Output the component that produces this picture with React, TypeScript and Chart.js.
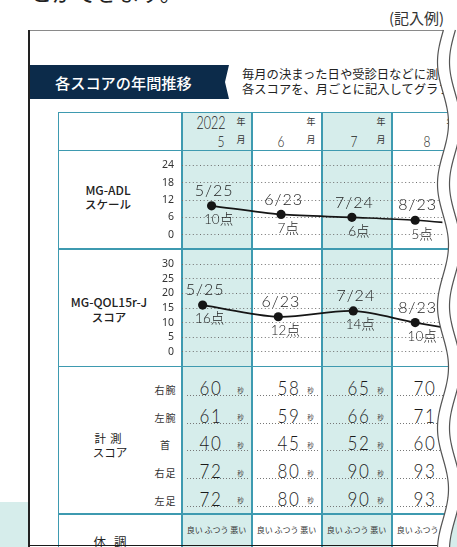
import React, { useEffect, useRef } from 'react';
import { Chart, registerables } from 'chart.js';

Chart.register(...registerables);

// ---------------- data ----------------
const YEAR = '2022';
const MONTHS = ['5', '6', '7', '8'];

const ADL_TICK_STEP = 6;
const ADL_MAX = 24;
const ADL_DATES = ['5/25', '6/23', '7/24', '8/23'];
const ADL_VALUES = [10, 7, 6, 5];
// plotted position of each point: month column index + place inside the column
const ADL_POS = [0.43, 1.44, 2.47, 3.39];

const QOL_TICK_STEP = 5;
const QOL_MAX = 30;
const QOL_DATES = ['5/25', '6/23', '7/24', '8/23'];
const QOL_VALUES = [16, 12, 14, 10];
const QOL_POS = [0.3, 1.4, 2.49, 3.39];

// next month, hidden behind the wavy cut: estimated from the line's direction
const ADL_NEXT_POS = 4.4;
const ADL_NEXT_VALUE = 3;
const QOL_NEXT_POS = 4.4;
const QOL_NEXT_VALUE = 6;

const PARTS = ['右腕', '左腕', '首', '右足', '左足'];
const MEASURE_MAY = [60, 61, 40, 72, 72];
const MEASURE_JUN = [58, 59, 45, 80, 80];
const MEASURE_JUL = [65, 66, 52, 90, 90];
const MEASURE_AUG = [70, 71, 60, 93, 93];
const MEASURES = [MEASURE_MAY, MEASURE_JUN, MEASURE_JUL, MEASURE_AUG];
const CONDITION = ['良い', 'ふつう', '悪い'];

// ---------------- layout / style ----------------
const W = 457;
const H = 547;
const JP = "'Noto Sans CJK JP', 'Noto Sans', sans-serif";
const HAND = "Lato, 'Noto Sans CJK JP', sans-serif";
const HW = 300;
const TEAL = '#d6edeb';
const LINE = '#3e9ab0';
const COL0 = 182;
const COL_W = 70;
const PLOT_RIGHT = 447;
const VALUE_OFF = [29, 36.5, 36.5, 32.5];

type TxtProps = {
  x: number; y: number; size: number; children: React.ReactNode;
  color?: string; weight?: number; family?: string;
  align?: 'left' | 'center' | 'right'; sx?: number; ls?: number;
};

function Txt({ x, y, size, children, color = '#222', weight = 400, family = JP, align = 'center', sx = 1, ls = 0 }: TxtProps) {
  const style: React.CSSProperties = {
    position: 'absolute',
    top: y - size,
    height: size * 2,
    lineHeight: `${size * 2}px`,
    fontSize: size,
    fontFamily: family,
    fontWeight: weight,
    color,
    whiteSpace: 'nowrap',
    letterSpacing: ls,
    transform: sx !== 1 ? `scaleX(${sx})` : undefined,
  };
  if (align === 'center') {
    style.left = x - 200; style.width = 400; style.textAlign = 'center'; style.transformOrigin = 'center center';
  } else if (align === 'left') {
    style.left = x; style.textAlign = 'left'; style.transformOrigin = 'left center';
  } else {
    style.right = W - x; style.textAlign = 'right'; style.transformOrigin = 'right center';
  }
  return <div style={style}>{children}</div>;
}

function Rect({ l, t, w, h, c, z }: { l: number; t: number; w: number; h: number; c: string; z?: number }) {
  return <div style={{ position: 'absolute', left: l, top: t, width: w, height: h, background: c, zIndex: z }} />;
}

type ChartProps = {
  left: number; top: number; width: number; height: number;
  padTop: number; padBottom: number; max: number; step: number;
  pos: number[]; values: number[]; dates: string[]; nextPos: number; nextValue: number;
};

function ScoreChart(p: ChartProps) {
  const ref = useRef<HTMLCanvasElement>(null);
  useEffect(() => {
    const labelPlugin = {
      id: 'pointLabels',
      afterDatasetsDraw(chart: any) {
        const meta = chart.getDatasetMeta(0);
        const ctx = chart.ctx as CanvasRenderingContext2D;
        ctx.save();
        ctx.fillStyle = '#222';
        ctx.textAlign = 'center';
        ctx.textBaseline = 'middle';
        p.dates.forEach((d, i) => {
          const el = meta.data[i];
          ctx.font = `${HW} 16px ${HAND}`;
          ctx.fillText(d.split('').join(String.fromCharCode(8202)), el.x + 2, el.y - 15);
          ctx.font = `${HW} 13.5px ${HAND}`;
          ctx.fillText(`${p.values[i]}点`, el.x + 7, el.y + 14);
        });
        ctx.restore();
      },
    };
    const pts = p.pos.map((x, i) => ({ x, y: p.values[i] }));
    pts.push({ x: p.nextPos, y: p.nextValue });
    const chart = new Chart(ref.current as HTMLCanvasElement, {
      type: 'line',
      data: {
        datasets: [
          {
            data: pts,
            borderColor: '#151515',
            borderWidth: 1.7,
            backgroundColor: '#151515',
            pointBackgroundColor: '#151515',
            pointBorderWidth: 0,
            pointRadius: (c: any) => (c.dataIndex < p.values.length ? 4.6 : 0),
            tension: 0.3,
            fill: false,
          },
        ],
      },
      options: {
        animation: false,
        responsive: false,
        devicePixelRatio: 1,
        layout: { padding: { top: p.padTop, bottom: p.padBottom, left: 0, right: 0 } },
        plugins: { legend: { display: false }, tooltip: { enabled: false } },
        scales: {
          x: { type: 'linear', min: 0, max: (PLOT_RIGHT - COL0) / COL_W, display: false },
          y: {
            min: 0,
            max: p.max,
            afterFit: (s: any) => { s.width = COL0 - p.left; },
            ticks: {
              stepSize: p.step,
              padding: 8,
              color: '#333',
              font: { family: "'Noto Sans', sans-serif", size: 10.5 },
            },
            grid: { color: '#6f6f6f', lineWidth: 1, drawTicks: false },
            border: { display: false, dash: [1, 2.6] },
          },
        },
      } as any,
      plugins: [labelPlugin],
    });
    return () => chart.destroy();
  }, []);
  return (
    <canvas
      ref={ref}
      width={p.width}
      height={p.height}
      style={{ position: 'absolute', left: p.left, top: p.top, width: p.width, height: p.height, zIndex: 3 }}
    />
  );
}

function wavePath(offset: number, close: boolean, yStart: number) {
  const pts: string[] = [];
  for (let y = yStart; y <= H + 2; y += 2) {
    const x = 443 + offset - 5.5 * Math.cos((2 * Math.PI * (y - 62)) / 122);
    pts.push(`${x.toFixed(2)},${y}`);
  }
  let d = 'M' + pts.join(' L');
  if (close) d += ` L${W + 5},${H + 2} L${W + 5},${yStart} Z`;
  return d;
}

export default function App() {
  const hLines = [112.5, 150.5, 249, 366.5, 514];
  const vLines = [58.5, COL0, COL0 + COL_W, COL0 + 2 * COL_W, COL0 + 3 * COL_W];
  const rowLine = (i: number) => 395 + i * 27.7;

  return (
    <div style={{ position: 'absolute', left: 0, top: 0, width: W, height: H, overflow: 'hidden', background: '#fff' }}>
      {/* teal band at bottom of page */}
      <Rect l={0} t={502} w={W} h={H - 502} c={TEAL} />
      {/* white paper */}
      <Rect l={29} t={30} w={W - 29} h={H - 30} c="#fff" />

      {/* cut-off heading text */}
      <Txt x={30} y={-9.5} size={22} align="left" color="#222">とができます。</Txt>
      <Txt x={389} y={18} size={15} align="left" color="#333">(記入例)</Txt>

      {/* title bar */}
      <div
        style={{
          position: 'absolute', left: 30, top: 65, width: 199, height: 34, background: '#0c2b4a',
          clipPath: 'polygon(0 0, 199px 0, 195px 17px, 199px 34px, 0 34px)',
        }}
      />
      <Txt x={55} y={82} size={15.2} align="left" color="#fff" weight={500}>各スコアの年間推移</Txt>
      <Txt x={242} y={74} size={12.3} align="left" color="#222">毎月の決まった日や受診日などに測定</Txt>
      <Txt x={242} y={89.5} size={12.3} align="left" color="#222">各スコアを、月ごとに記入してグラフに</Txt>

      {/* month column backgrounds */}
      {MONTHS.map((m, i) =>
        i % 2 === 0 ? <Rect key={'bg' + m} l={COL0 + i * COL_W} t={112.5} w={COL_W} h={H - 112.5} c={TEAL} /> : null
      )}

      {/* table lines */}
      {hLines.map((y) => <Rect key={'h' + y} l={58} t={y - 0.75} w={W - 58} h={1.5} c={LINE} z={2} />)}
      {vLines.map((x) => <Rect key={'v' + x} l={x - 0.75} t={112} w={1.5} h={H - 112} c={LINE} z={2} />)}

      {/* header */}
      {MONTHS.map((m, i) => {
        const c = COL0 + i * COL_W;
        const numX = [39, 29, 31.7, 35][i];
        return (
          <React.Fragment key={'hd' + m}>
            {i === 0 && <Txt x={c + 28.8} y={122.3} size={18} family={HAND} weight={HW} sx={0.7}>{YEAR}</Txt>}
            <Txt x={c + 59} y={122} size={9} color="#333">年</Txt>
            <Txt x={c + numX} y={141} size={15} family={HAND} weight={HW} sx={0.8}>{m}</Txt>
            <Txt x={c + 59} y={139.5} size={9} color="#333">月</Txt>
          </React.Fragment>
        );
      })}

      {/* row labels */}
      <Txt x={108} y={190} size={12} weight={500} color="#222">MG-ADL</Txt>
      <Txt x={108} y={204} size={11.5} weight={500} color="#222">スケール</Txt>
      <Txt x={109} y={302} size={12} weight={500} color="#222">MG-QOL15r-J</Txt>
      <Txt x={109} y={317} size={11.5} weight={500} color="#222">スコア</Txt>
      <Txt x={110} y={438} size={11.5} color="#222" ls={4}>計測</Txt>
      <Txt x={110} y={452.5} size={11.5} color="#222">スコア</Txt>
      <Txt x={114} y={541} size={12.5} color="#222" ls={8}>体調</Txt>

      {/* measurement rows */}
      {PARTS.map((part, r) => (
        <Txt key={'pt' + part} x={165.5} y={rowLine(r) - 5} size={10} color="#333" ls={1}>{part}</Txt>
      ))}
      {MEASURES.map((col, i) => {
        const c = COL0 + i * COL_W;
        return (
          <React.Fragment key={'ms' + i}>
            {col.map((v, r) => (
              <React.Fragment key={'mv' + i + '-' + r}>
                <Txt x={c + VALUE_OFF[i]} y={rowLine(r) - 8} size={20} family={HAND} weight={HW} sx={0.85} ls={2} color="#1a1a1a">{v}</Txt>
                <Txt x={c + 58.6} y={rowLine(r) - 5} size={6.5} color="#444">秒</Txt>
                <div
                  style={{
                    position: 'absolute', left: c + 5, top: rowLine(r), width: 61, height: 1,
                    background: 'repeating-linear-gradient(to right, #777 0 1px, transparent 1px 3px)',
                  }}
                />
              </React.Fragment>
            ))}
            <Txt x={c + 4.7} y={530} size={8} align="left" color="#333">{CONDITION.join(' ')}</Txt>
          </React.Fragment>
        );
      })}

      {/* charts */}
      <ScoreChart
        left={150} top={151} width={PLOT_RIGHT - 150} height={98}
        padTop={12.5} padBottom={11.5} max={ADL_MAX} step={ADL_TICK_STEP}
        pos={ADL_POS} values={ADL_VALUES} dates={ADL_DATES}
        nextPos={ADL_NEXT_POS} nextValue={ADL_NEXT_VALUE}
      />
      <ScoreChart
        left={150} top={250} width={PLOT_RIGHT - 150} height={116}
        padTop={10.7} padBottom={7.3} max={QOL_MAX} step={QOL_TICK_STEP}
        pos={QOL_POS} values={QOL_VALUES} dates={QOL_DATES}
        nextPos={QOL_NEXT_POS} nextValue={QOL_NEXT_VALUE}
      />

      {/* frame */}
      <Rect l={29} t={29.5} w={420} h={1.5} c="#8a8a8a" z={4} />
      <Rect l={28.3} t={30} w={1.6} h={H - 30} c="#222" z={4} />
      <Rect l={29} t={544.6} w={421} h={1.6} c="#1a1a1a" z={4} />

      {/* wavy cut on the right */}
      <svg width={W} height={H} style={{ position: 'absolute', left: 0, top: 0, zIndex: 5 }}>
        <defs>
          <clipPath id="band">
            <rect x={0} y={502} width={W} height={H - 502} />
          </clipPath>
        </defs>
        <path d={wavePath(0, true, 30)} fill="#fff" stroke="none" />
        <path d={wavePath(12, true, 30)} fill={TEAL} stroke="none" clipPath="url(#band)" />
        <path d={wavePath(0, false, 30)} fill="none" stroke="#555" strokeWidth={1.2} />
        <path d={wavePath(12, false, 30)} fill="none" stroke="#555" strokeWidth={1.2} />
      </svg>
    </div>
  );
}
